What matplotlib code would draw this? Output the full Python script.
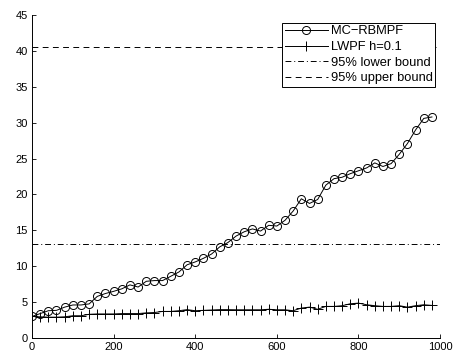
import matplotlib
matplotlib.use('Agg')
import matplotlib.pyplot as plt
import numpy as np

plt.rcParams['font.family'] = ['Liberation Sans', 'DejaVu Sans']

# iteracoes (passo 20)
x = np.arange(0, 1000, 20)

mc_rbmpf = [3.0, 3.4, 3.8, 3.85, 4.3, 4.6, 4.6, 4.75, 5.8, 6.2,
            6.5, 6.85, 7.4, 7.1, 7.9, 8.0, 8.0, 8.6, 9.2, 10.2,
            10.6, 11.1, 11.7, 12.7, 13.3, 14.2, 14.8, 15.2, 14.9, 15.7,
            15.6, 16.4, 17.7, 19.4, 18.75, 19.3, 21.3, 22.2, 22.4, 22.9,
            23.3, 23.7, 24.4, 23.9, 24.3, 25.6, 27.1, 29.0, 30.6, 30.8]

lwpf = [3.0, 2.95, 2.9, 2.9, 2.95, 3.1, 3.1, 3.3, 3.35, 3.35,
        3.35, 3.4, 3.4, 3.4, 3.5, 3.55, 3.7, 3.7, 3.8, 3.95,
        3.8, 3.85, 3.9, 3.95, 3.95, 3.93, 3.93, 3.93, 3.93, 4.0,
        3.93, 3.93, 3.8, 4.17, 4.3, 4.0, 4.4, 4.4, 4.5, 4.77,
        4.86, 4.63, 4.5, 4.4, 4.4, 4.5, 4.3, 4.5, 4.63, 4.54]

lower_bound = 13.1
upper_bound = 40.5

fig = plt.figure(figsize=(4.58, 3.58), dpi=100)
ax = fig.add_axes([0.0699, 0.0559, 0.891, 0.902])

ax.plot(x, mc_rbmpf, 'k-o', lw=0.7, markersize=5.8, markerfacecolor='none',
        markeredgewidth=0.7, label='MC\u2212RBMPF')
ax.plot(x, lwpf, 'k-+', lw=0.7, markersize=7, markeredgewidth=0.7,
        label='LWPF h=0.1')
ax.plot([0, 1000], [lower_bound, lower_bound], 'k-.', lw=0.7,
        label='95% lower bound', dashes=(6, 3, 1, 3))
ax.plot([0, 1000], [upper_bound, upper_bound], 'k--', lw=0.7,
        label='95% upper bound', dashes=(6, 4.5))

ax.set_xlim(0, 1000)
ax.set_ylim(0, 45)
ax.set_xticks(np.arange(0, 1001, 200))
ax.set_yticks(np.arange(0, 46, 5))
ax.tick_params(direction='in', length=3, width=0.6, labelsize=8, pad=3)
ax.spines['top'].set_visible(False)
ax.spines['right'].set_visible(False)
for s in ['left', 'bottom']:
    ax.spines[s].set_linewidth(0.7)

leg = ax.legend(loc='upper right', bbox_to_anchor=(0.988, 0.976), fontsize=9.3,
                fancybox=False, framealpha=1, edgecolor='k', handlelength=3.3,
                handletextpad=0.25, borderpad=0.2, labelspacing=0.28,
                borderaxespad=0)
leg.get_frame().set_linewidth(0.7)

fig.savefig('out.png', dpi=100)
